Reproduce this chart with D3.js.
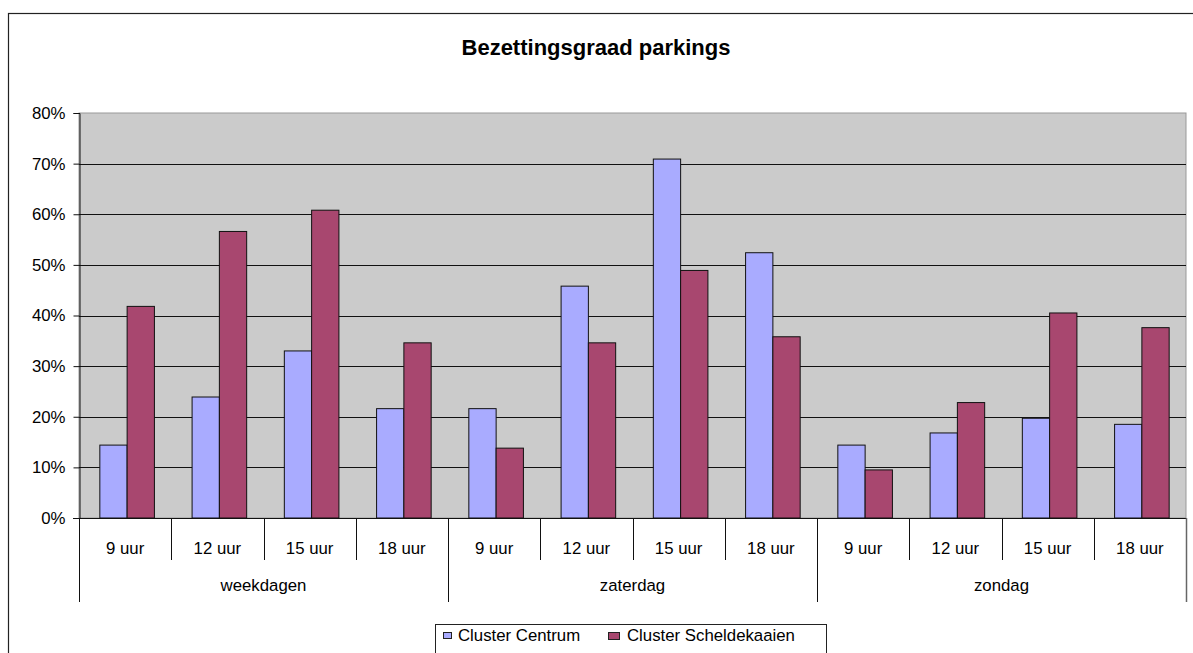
<!DOCTYPE html>
<html>
<head>
<meta charset="utf-8">
<script src="https://cdn.jsdelivr.net/npm/d3@7"></script>
<style>
  body { margin: 0; background: #fff; }
  svg { font-family: "Liberation Sans", Arial, sans-serif; }
</style>
</head>
<body>
<div id="chart"></div>
<script>
const hours = ["9 uur", "12 uur", "15 uur", "18 uur"];
const days = ["weekdagen", "zaterdag", "zondag"];
const centrum = [14.4, 23.9, 33.0, 21.6, 21.6, 45.8, 70.9, 52.4, 14.4, 16.8, 19.7, 18.5];
const schelde = [41.8, 56.6, 60.8, 34.6, 13.8, 34.6, 48.9, 35.8, 9.5, 22.8, 40.5, 37.6];
const seriesNames = ["Cluster Centrum", "Cluster Scheldekaaien"];
const colors = ["#a9abff", "#a8476f"];
const yTicks = [0, 10, 20, 30, 40, 50, 60, 70, 80];

const W = 1193, H = 653;
const plot = { left: 79, right: 1186, top: 113, bottom: 518 };
const FS = "16.8px";

const svg = d3.select("#chart").append("svg")
    .attr("width", W)
    .attr("height", H);

// outer chart border (runs off the right / bottom edge)
svg.append("rect")
    .attr("x", 8.5).attr("y", 13.5)
    .attr("width", 1200).attr("height", 700)
    .attr("fill", "#fff")
    .attr("stroke", "#222")
    .attr("stroke-width", 1.2);

svg.append("text")
    .attr("x", 596).attr("y", 55)
    .attr("text-anchor", "middle")
    .style("font-size", "22px")
    .style("font-weight", "bold")
    .text("Bezettingsgraad parkings");

// category list: one per day/hour
var cats = [];
days.forEach(d => hours.forEach(h => cats.push(d + "|" + h)));

var x = d3.scaleBand()
    .domain(cats)
    .range([plot.left, plot.right]);

var y = d3.scaleLinear()
    .domain([0, 80])
    .range([plot.bottom, plot.top]);

svg.append("rect")
    .attr("x", plot.left).attr("y", plot.top)
    .attr("width", plot.right - plot.left)
    .attr("height", plot.bottom - plot.top)
    .attr("fill", "#cbcbcb")
    .attr("stroke", "#999")
    .attr("stroke-width", 1);

// gridlines
svg.append("g")
    .selectAll("line")
    .data(yTicks.filter(t => t > 0 && t < 80))
    .enter()
    .append("line")
    .attr("x1", plot.left).attr("x2", plot.right)
    .attr("y1", d => Math.round(y(d)) + 0.5)
    .attr("y2", d => Math.round(y(d)) + 0.5)
    .attr("stroke", "#111")
    .attr("stroke-width", 1);

// y axis
var yAxis = svg.append("g")
    .attr("transform", "translate(" + (plot.left + 0.5) + ",0)")
    .call(d3.axisLeft(y).tickValues(yTicks).tickSize(6).tickPadding(8).tickFormat(d => d + "%"));
yAxis.select(".domain").attr("stroke", "#111");
yAxis.selectAll(".tick line").attr("stroke", "#111");
yAxis.selectAll("text").style("font-size", FS).attr("fill", "#000");

// bars
var bw = x.step() / 3.38;
var barData = [];
cats.forEach((c, i) => {
    barData.push({ cat: c, s: 0, v: centrum[i] });
    barData.push({ cat: c, s: 1, v: schelde[i] });
});
svg.append("g")
    .selectAll("rect")
    .data(barData)
    .enter()
    .append("rect")
    .attr("x", d => x(d.cat) + x.step() / 2 - bw + d.s * bw + 2)
    .attr("y", d => y(d.v))
    .attr("width", bw)
    .attr("height", d => plot.bottom - y(d.v))
    .attr("fill", d => colors[d.s])
    .attr("stroke", "#111")
    .attr("stroke-width", 1);

// x axis baseline
svg.append("line")
    .attr("x1", plot.left - 6).attr("x2", plot.right)
    .attr("y1", plot.bottom + 0.5).attr("y2", plot.bottom + 0.5)
    .attr("stroke", "#111");

// category separators
var axisG = svg.append("g");
cats.forEach((c, i) => {
    var xx = Math.round(x(c)) + 0.5;
    axisG.append("line")
        .attr("x1", xx).attr("x2", xx)
        .attr("y1", plot.bottom).attr("y2", i % 4 == 0 ? 602 : 560)
        .attr("stroke", "#111");
    axisG.append("text")
        .attr("x", x(c) + x.step() / 2)
        .attr("y", 554)
        .attr("text-anchor", "middle")
        .style("font-size", FS)
        .text(c.split("|")[1]);
});
axisG.append("line")
    .attr("x1", plot.right + 0.5).attr("x2", plot.right + 0.5)
    .attr("y1", plot.bottom).attr("y2", 602)
    .attr("stroke", "#666").attr("stroke-width", 1.5);

days.forEach((d, i) => {
    var x0 = x(d + "|" + hours[0]);
    axisG.append("text")
        .attr("x", x0 + x.step() * 2)
        .attr("y", 591)
        .attr("text-anchor", "middle")
        .style("font-size", FS)
        .text(d);
});

// legend
var lg = svg.append("g");
lg.append("rect")
    .attr("x", 435.5).attr("y", 624.5)
    .attr("width", 391).attr("height", 40)
    .attr("fill", "#fff")
    .attr("stroke", "#222");
var legendX = [443, 608];
var legendTextX = [458, 627];
seriesNames.forEach((n, i) => {
    lg.append("rect")
        .attr("x", legendX[i] + 0.5).attr("y", 632.5)
        .attr("width", i ? 11 : 8).attr("height", i ? 7 : 6)
        .attr("fill", colors[i])
        .attr("stroke", "#222");
    lg.append("text")
        .attr("x", legendTextX[i])
        .attr("y", 641)
        .style("font-size", FS)
        .text(n);
});
</script>
</body>
</html>
